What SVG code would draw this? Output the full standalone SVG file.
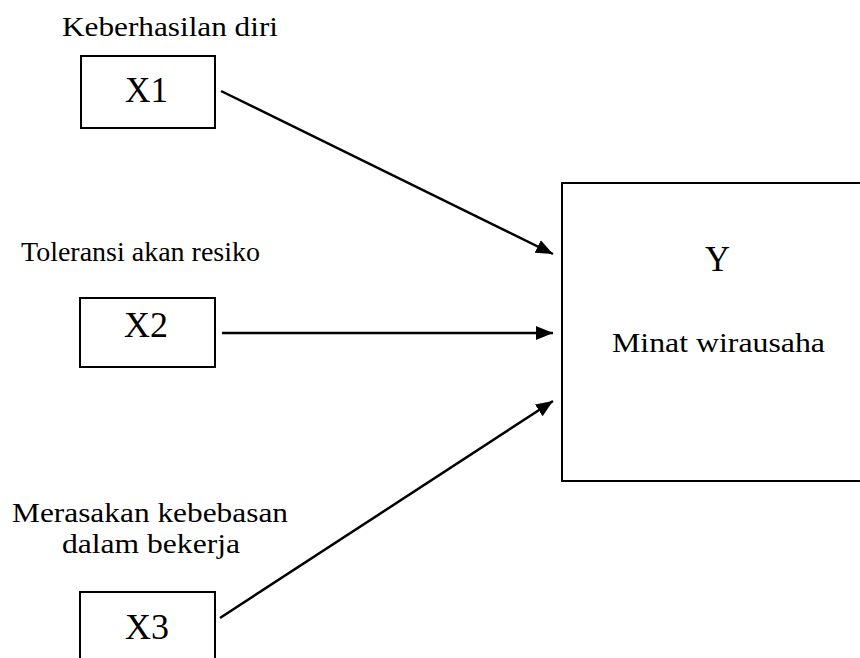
<svg xmlns="http://www.w3.org/2000/svg" width="860" height="658" viewBox="0 0 860 658">
<style>
.box{fill:#fff;stroke:#000;stroke-width:2}
.lbl{font-size:27px;fill:#000}
.big{font-size:36px;fill:#000}
.conn{stroke:#000;stroke-width:2.5;fill:none}
</style>
<defs>
<marker id="ah" markerUnits="userSpaceOnUse" markerWidth="18" markerHeight="16" refX="17" refY="8" orient="auto">
<path d="M0,1 L17,8 L0,15 Z" fill="#000"/>
</marker>
</defs>
<rect width="860" height="658" fill="#fff"/>
<g id="connectors">
<line class="conn" x1="221" y1="91" x2="553" y2="254" marker-end="url(#ah)"/>
<line class="conn" x1="222" y1="333" x2="553" y2="333" marker-end="url(#ah)"/>
<line class="conn" x1="220" y1="618" x2="553" y2="401" marker-end="url(#ah)"/>
</g>
<g font-family="Liberation Serif, Times New Roman, serif">
<g id="x1">
<text class="lbl" x="62" y="36" textLength="216" lengthAdjust="spacingAndGlyphs">Keberhasilan diri</text>
<rect class="box" x="81" y="56" width="134" height="72"/>
<text class="big" x="125" y="102" textLength="43" lengthAdjust="spacingAndGlyphs">X1</text>
</g>
<g id="x2">
<text class="lbl" x="21" y="261" textLength="239" lengthAdjust="spacingAndGlyphs">Toleransi akan resiko</text>
<rect class="box" x="80" y="298" width="135" height="69"/>
<text class="big" x="124" y="337" textLength="44" lengthAdjust="spacingAndGlyphs">X2</text>
</g>
<g id="x3">
<text class="lbl" x="12" y="522" textLength="276" lengthAdjust="spacingAndGlyphs">Merasakan kebebasan</text>
<text class="lbl" x="62" y="553" textLength="178" lengthAdjust="spacingAndGlyphs">dalam bekerja</text>
<rect class="box" x="80" y="592" width="135" height="80"/>
<text class="big" x="125" y="639" textLength="44" lengthAdjust="spacingAndGlyphs">X3</text>
</g>
<g id="y">
<rect class="box" x="562" y="183" width="310" height="298"/>
<text class="big" x="705" y="271" textLength="25" lengthAdjust="spacingAndGlyphs">Y</text>
<text class="lbl" x="612" y="352" textLength="213" lengthAdjust="spacingAndGlyphs">Minat wirausaha</text>
</g>
</g>
</svg>
